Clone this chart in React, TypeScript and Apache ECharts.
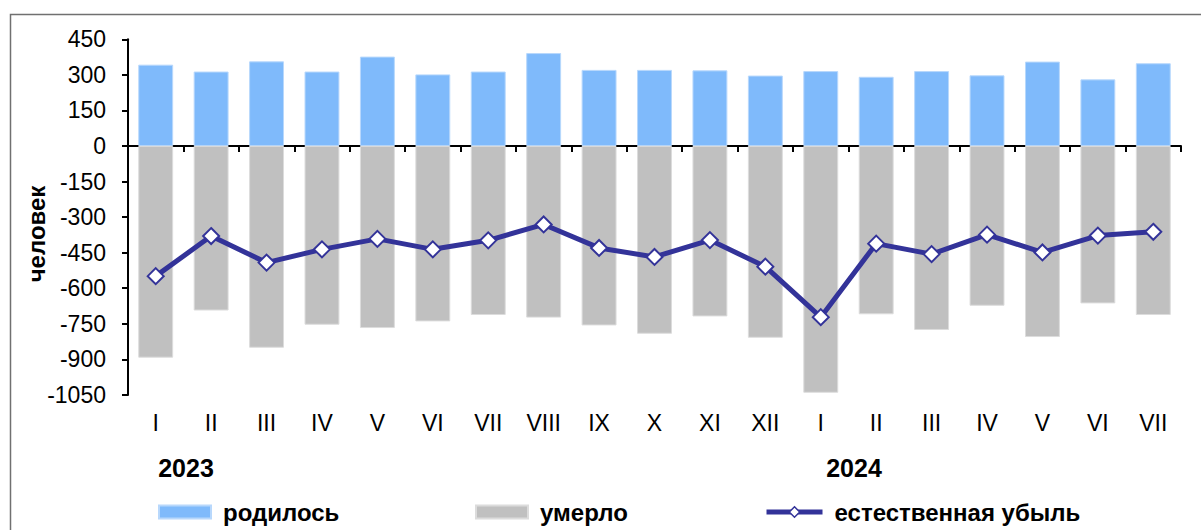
import React, { useEffect, useRef } from "react";
import * as echarts from "echarts";

const months = ["I", "II", "III", "IV", "V", "VI", "VII", "VIII", "IX", "X", "XI", "XII", "I", "II", "III", "IV", "V", "VI", "VII"];
const births = [343, 314, 357, 314, 377, 302, 314, 392, 321, 321, 319, 297, 316, 292, 316, 298, 356, 281, 349];
const deaths = [-893, -694, -851, -754, -768, -740, -713, -724, -757, -792, -719, -809, -1041, -710, -776, -674, -806, -664, -713];
const naturalDecrease = [-549, -380, -492, -436, -392, -436, -398, -331, -430, -468, -397, -509, -722, -412, -456, -374, -449, -378, -362];
const yTicks = { min: -1050, max: 450, interval: 150 };
const yearLabels = [
  { text: "2023", x: 186 },
  { text: "2024", x: 854 },
];
const seriesNames = ["родилось", "умерло", "естественная убыль"];
const axisTitle = "человек";

const FONT = "Liberation Sans, Arial, sans-serif";

export default function App() {
  const ref = useRef<HTMLDivElement>(null);
  useEffect(() => {
    if (!ref.current) return;
    const chart = echarts.init(ref.current, undefined, { renderer: "svg" });
    const legendText = { fontFamily: FONT, fontSize: 24, fontWeight: "bold", color: "#000", padding: [0, 0, 0, 7] };
    const legendBase = { top: 500, padding: 0, itemHeight: 13, textStyle: legendText, selectedMode: false };
    chart.setOption({
      animation: false,
      backgroundColor: "#fff",
      textStyle: { fontFamily: FONT },
      grid: { left: 128, right: 20, top: 39.3, bottom: 135.1, containLabel: false },
      legend: [
        { ...legendBase, data: [{ name: seriesNames[0], icon: "rect" }], left: 158, itemWidth: 52 },
        { ...legendBase, data: [{ name: seriesNames[1], icon: "rect" }], left: 475, itemWidth: 52 },
        {
          ...legendBase,
          data: [seriesNames[2]],
          left: 764,
          itemWidth: 56,
          lineStyle: { width: 5, color: "#333399" },
          itemStyle: { color: "#fff", borderColor: "#333399", borderWidth: 1.5 },
        },
      ],
      xAxis: [
        {
          type: "category",
          data: months,
          position: "bottom",
          axisLine: { show: true, onZero: true, lineStyle: { color: "#000", width: 2 } },
          axisTick: { show: true, length: 6, lineStyle: { color: "#000", width: 2 } },
          axisLabel: { show: false },
          splitLine: { show: false },
        },
        {
          type: "category",
          data: months,
          position: "bottom",
          axisLine: { show: false, onZero: false },
          axisTick: { show: false },
          axisLabel: { show: true, margin: 17, fontFamily: FONT, fontSize: 23, color: "#000", interval: 0 },
          splitLine: { show: false },
        },
      ],
      yAxis: {
        type: "value",
        min: yTicks.min,
        max: yTicks.max,
        interval: yTicks.interval,
        axisLine: { show: true, lineStyle: { color: "#000", width: 2 } },
        axisTick: { show: true, length: 6, lineStyle: { color: "#000", width: 2 } },
        axisLabel: { fontFamily: FONT, fontSize: 23, color: "#000", margin: 22, formatter: (v: number) => String(v) },
        splitLine: { show: false },
      },
      series: [
        {
          name: seriesNames[0],
          type: "bar",
          xAxisIndex: 0,
          data: births,
          barWidth: "63%",
          barGap: "-100%",
          itemStyle: { color: "#7fbafb", borderColor: "#b8d8fc", borderWidth: 1 },
        },
        {
          name: seriesNames[1],
          type: "bar",
          xAxisIndex: 0,
          data: deaths,
          barWidth: "63%",
          barGap: "-100%",
          itemStyle: { color: "#c0c0c0", borderColor: "#dcdcdc", borderWidth: 1 },
        },
        {
          name: seriesNames[2],
          type: "line",
          xAxisIndex: 0,
          data: naturalDecrease,
          symbol: "diamond",
          symbolSize: 16,
          z: 5,
          lineStyle: { color: "#333399", width: 5 },
          itemStyle: { color: "#ffffff", borderColor: "#333399", borderWidth: 2 },
        },
      ],
      graphic: [
        {
          type: "rect",
          left: 8,
          top: 12,
          shape: { width: 1300, height: 600 },
          style: { fill: "none", stroke: "#707070", lineWidth: 1.5 },
          silent: true,
          z: -10,
        },
        {
          type: "text",
          x: 36,
          y: 234,
          rotation: Math.PI / 2,
          style: {
            text: axisTitle,
            fontFamily: FONT,
            fontSize: 24,
            fontWeight: "bold",
            fill: "#000",
            align: "center",
            verticalAlign: "middle",
          },
        },
        ...yearLabels.map((y) => ({
          type: "text",
          x: y.x,
          y: 468,
          style: {
            text: y.text,
            fontFamily: FONT,
            fontSize: 25,
            fontWeight: "bold",
            fill: "#000",
            align: "center",
            verticalAlign: "middle",
          },
        })),
      ],
    });
    return () => chart.dispose();
  }, []);
  return <div ref={ref} style={{ position: "fixed", left: 0, top: 0, width: 1201, height: 530 }} />;
}
